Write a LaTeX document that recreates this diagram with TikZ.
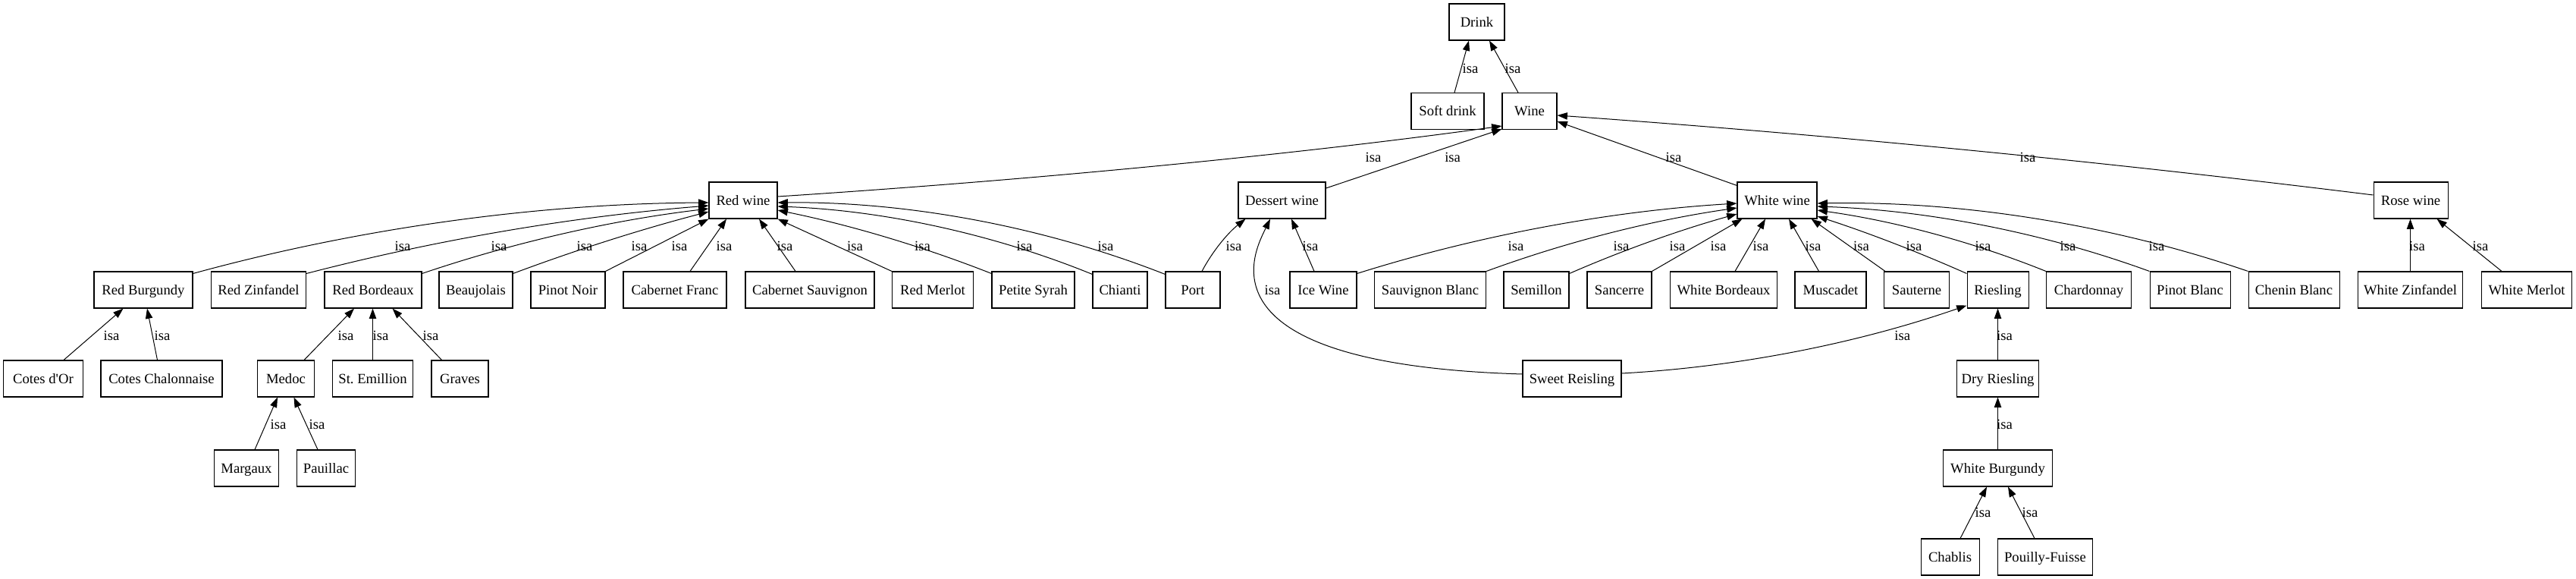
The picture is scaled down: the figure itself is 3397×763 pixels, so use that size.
\documentclass[tikz,border=0pt]{standalone}
\usepackage{fontspec}
\setmainfont{Liberation Serif}
\usetikzlibrary{arrows.meta,calc}
\tikzset{
  nd/.style={draw, line width=0.8pt, minimum width=#1*0.75pt, minimum height=36pt, inner sep=0pt,
    text height=9.3pt, text depth=0pt, font=\fontsize{14pt}{16pt}\selectfont},
  lab/.style={inner sep=0pt, text height=9.3pt, text depth=0pt, font=\fontsize{14pt}{16pt}\selectfont},
  edge/.style={line width=0.75pt, -{Triangle[length=10pt,width=7pt]}},
}
\newcommand\isaarc[4]{%
  \coordinate (qS) at #1;
  \coordinate (qE) at #2;
  \draw[edge] (qS) .. controls ($(qS)!0.33!#3:(qE)$) and ($(qE)!0.33!#4:(qS)$) .. (qE);
}
\begin{document}
\begin{tikzpicture}[x=0.75pt,y=-0.75pt]
\fill[white] (0,0) rectangle (3397,763);
\useasboundingbox (0,0) rectangle (3397,763);
% row 0-2
\node[nd=73] (drink) at (1947.5,29) {Drink};
\node[nd=96] (soft) at (1909,146.5) {Soft drink};
\node[nd=72] (wine) at (2017,146.5) {Wine};
\node[nd=90] (red) at (980,264) {Red wine};
\node[nd=115] (dessert) at (1690.5,264) {Dessert wine};
\node[nd=105] (white) at (2343.5,264) {White wine};
\node[nd=98] (rose) at (3179,264) {Rose wine};
% row 3
\node[nd=130] (rburg) at (189,382) {Red Burgundy};
\node[nd=125] (rzin) at (341,382) {Red Zinfandel};
\node[nd=128] (rbord) at (492,382) {Red Bordeaux};
\node[nd=97] (beauj) at (627.5,382) {Beaujolais};
\node[nd=98] (pnoir) at (749,382) {Pinot Noir};
\node[nd=136] (cfranc) at (890,382) {Cabernet Franc};
\node[nd=170] (csauv) at (1068,382) {Cabernet Sauvignon};
\node[nd=107] (rmerl) at (1230,382) {Red Merlot};
\node[nd=109] (psyr) at (1362.5,382) {Petite Syrah};
\node[nd=72] (chianti) at (1477,382) {Chianti};
\node[nd=72] (port) at (1573,382) {Port};
\node[nd=88] (ice) at (1745,382) {Ice Wine};
\node[nd=147] (sblanc) at (1886,382) {Sauvignon Blanc};
\node[nd=86] (semil) at (2026,382) {Semillon};
\node[nd=85] (sanc) at (2135.5,382) {Sancerre};
\node[nd=141] (wbord) at (2273,382) {White Bordeaux};
\node[nd=94] (musc) at (2414,382) {Muscadet};
\node[nd=86] (saut) at (2527.5,382) {Sauterne};
\node[nd=81] (ries) at (2634.5,382) {Riesling};
\node[nd=112] (chard) at (2754.5,382) {Chardonnay};
\node[nd=106] (pblanc) at (2888,382) {Pinot Blanc};
\node[nd=120] (chenin) at (3025,382) {Chenin Blanc};
\node[nd=138] (wzin) at (3178.5,382) {White Zinfandel};
\node[nd=119] (wmerl) at (3332,382) {White Merlot};
% row 4
\node[nd=105] (cdor) at (57,499) {Cotes d\textquotesingle Or};
\node[nd=160] (cchal) at (213,499) {Cotes Chalonnaise};
\node[nd=75] (medoc) at (377,499) {Medoc};
\node[nd=106] (stem) at (491.5,499) {St.\ Emillion};
\node[nd=75] (graves) at (606.5,499) {Graves};
\node[nd=130] (sweet) at (2073,499) {Sweet Reisling};
\node[nd=108] (dry) at (2634.5,499) {Dry Riesling};
% row 5-6
\node[nd=85] (margaux) at (325,617) {Margaux};
\node[nd=77.5] (pauil) at (430,617) {Pauillac};
\node[nd=144] (wburg) at (2634.5,617) {White Burgundy};
\node[nd=77] (chablis) at (2571.5,734) {Chablis};
\node[nd=125] (pouilly) at (2697,734) {Pouilly-Fuisse};

% edges top
\draw[edge] ($(soft.north)+(9,0)$) -- ($(drink.south)+(-10.5,0)$);
\draw[edge] ($(wine.north)+(-15,0)$) -- ($(drink.south)+(16.5,0)$);
\draw[edge] ($(red.east)+(0,-5)$) .. controls (1350,238) and (1700,205) .. ($(wine.south west)+(0,-5)$);
\draw[edge] ($(dessert.east)+(0,-16)$) -- ($(wine.south west)+(0,-1)$);
\draw[edge] ($(white.north west)+(0,5)$) -- ($(wine.east)+(0,13.5)$);
\isaarc{($(rose.west)+(0,-7)$)}{($(wine.east)+(0,5.5)$)}{-1.5}{1.5}
% red wine
\isaarc{($(rburg.north east)+(0,3)$)}{($(red.west)+(0,3)$)}{7.5}{-7.5}
\isaarc{($(rzin.north east)+(0,3)$)}{($(red.west)+(0,7)$)}{5}{-5}
\isaarc{($(rbord.north east)+(0,3)$)}{($(red.west)+(0,11)$)}{6}{-6}
\isaarc{($(beauj.north east)+(0,3)$)}{($(red.west)+(0,15)$)}{3}{-3}
\draw[edge] (pnoir.north east) -- (red.south west);
\draw[edge] ($(cfranc.north)+(20,0)$) -- ($(red.south)+(-22,0)$);
\draw[edge] ($(csauv.north)+(-19,0)$) -- ($(red.south)+(21,0)$);
\draw[edge] (rmerl.north west) -- (red.south east);
\isaarc{($(psyr.north west)+(0,3)$)}{($(red.east)+(0,13)$)}{-5}{5}
\isaarc{($(chianti.north west)+(0,4)$)}{($(red.east)+(0,8)$)}{-10}{10}
\isaarc{($(port.north west)+(0,4)$)}{($(red.east)+(0,3)$)}{-11}{11}
% dessert wine
\isaarc{($(port.north)+(12,0)$)}{($(dessert.south west)+(10,0)$)}{12}{-12}
\draw[edge] ($(sweet.west)+(0,-6)$) .. controls (1570,480) and (1655,330) .. ($(dessert.south)+(-15.5,0)$);
\draw[edge] ($(ice.north)+(-12,0)$) -- ($(dessert.south)+(12.5,0)$);
% white wine
\isaarc{($(ice.north east)+(0,3)$)}{($(white.west)+(0,4)$)}{7}{-7}
\isaarc{(sblanc.north east)}{($(white.west)+(0,10)$)}{6}{-6}
\isaarc{($(semil.north east)+(0,3)$)}{($(white.west)+(0,18)$)}{4}{-4}
\draw[edge] (sanc.north east) -- ($(white.south west)+(7,0)$);
\draw[edge] ($(wbord.north)+(15,0)$) -- ($(white.south)+(-15.5,0)$);
\draw[edge] ($(musc.north)+(-15.5,0)$) -- ($(white.south)+(15.5,0)$);
\draw[edge] ($(saut.north west)+(2,0)$) -- ($(white.south east)+(-8,0)$);
\isaarc{($(ries.north west)+(0,3)$)}{($(white.east)+(0,21)$)}{-3}{3}
\isaarc{(chard.north west)}{($(white.east)+(0,13)$)}{-7}{7}
\isaarc{(pblanc.north west)}{($(white.east)+(0,8)$)}{-9}{9}
\isaarc{(chenin.north west)}{($(white.east)+(0,4)$)}{-10}{10}
% rose wine
\draw[edge] (wzin.north) -- (wzin.north |- rose.south);
\draw[edge] ($(wmerl.north)+(-33,0)$) -- ($(rose.south)+(34.5,0)$);
% lower levels
\draw[edge] ($(cdor.north)+(27,0)$) -- ($(rburg.south)+(-26.5,0)$);
\draw[edge] ($(cchal.north)+(-5.5,0)$) -- ($(rburg.south)+(5,0)$);
\draw[edge] ($(medoc.north)+(24,0)$) -- ($(rbord.south)+(-25,0)$);
\draw[edge] (stem.north) -- (stem.north |- rbord.south);
\draw[edge] ($(graves.north)+(-24,0)$) -- ($(rbord.south)+(25.5,0)$);
\isaarc{($(sweet.east)+(0,-7)$)}{($(ries.south west)+(0,-4)$)}{-8}{8}
\draw[edge] (dry.north) -- (dry.north |- ries.south);
\draw[edge] ($(margaux.north)+(11,0)$) -- ($(medoc.south)+(-11,0)$);
\draw[edge] ($(pauil.north)+(-11,0)$) -- ($(medoc.south)+(10.5,0)$);
\draw[edge] (wburg.north) -- (wburg.north |- dry.south);
\draw[edge] ($(chablis.north)+(13.5,0)$) -- ($(wburg.south)+(-14.5,0)$);
\draw[edge] ($(pouilly.north)+(-14,0)$) -- ($(wburg.south)+(13.5,0)$);

% labels
\foreach \x [count=\i] in {1939,1995} \node[lab] (la\i) at (\x,90) {isa};
\foreach \x [count=\i] in {1811,1915.6,2207,2674} \node[lab] (lb\i) at (\x,207) {isa};
\foreach \x [count=\i] in {531,658,771,843,896,955,1035,1127.5,1216.5,1351,1458,1627,1728,1999,2138,2212,2266,2322,2391,2454.5,2524,2615,2727,2844,3187.5,3271}
  \node[lab] (lc\i) at (\x,324) {isa};
\node[lab] (ld1) at (1678,382) {isa};
\foreach \x [count=\i] in {147,214,456,502,568,2508.7,2643.5} \node[lab] (le\i) at (\x,442) {isa};
\foreach \x [count=\i] in {367,418,2643.5} \node[lab] (lf\i) at (\x,559) {isa};
\foreach \x [count=\i] in {2615,2677} \node[lab] (lg\i) at (\x,675) {isa};
\end{tikzpicture}
\end{document}
